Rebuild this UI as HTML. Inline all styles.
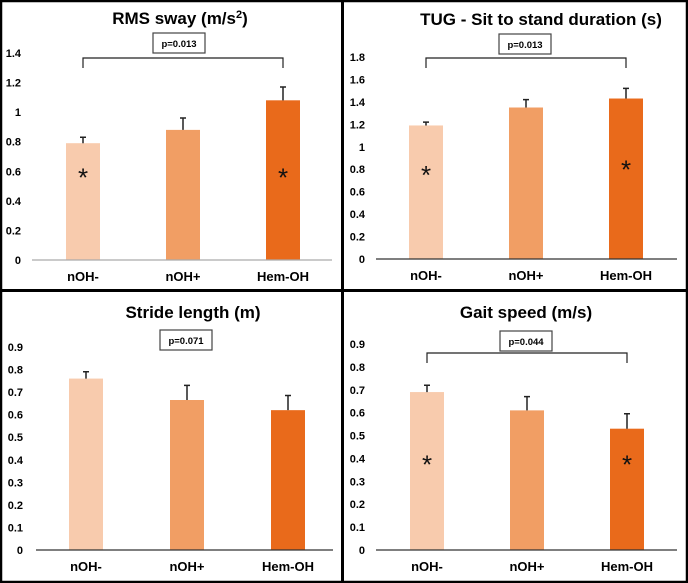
<!DOCTYPE html>
<html><head><meta charset="utf-8"><style>
html,body{margin:0;padding:0;background:#fff}
svg{display:block;font-family:"Liberation Sans",Arial,sans-serif}
</style></head><body>
<svg id="fig" width="688" height="583" viewBox="0 0 688 583" xmlns="http://www.w3.org/2000/svg">
<rect x="1" y="1" width="686" height="581" fill="#fff" stroke="#000" stroke-width="2.5"/>
<line x1="342.5" y1="0" x2="342.5" y2="583" stroke="#000" stroke-width="3"/>
<line x1="0" y1="290.5" x2="688" y2="290.5" stroke="#000" stroke-width="3"/>
</svg>
<script>
const categories = ["nOH-", "nOH+", "Hem-OH"];
const colors = ["#F8CBAD", "#F19E64", "#E96A1B"];
const rmsValues = [0.79, 0.88, 1.08];
const rmsErrors = [0.04, 0.08, 0.09];
const rmsTicks = ["0","0.2","0.4","0.6","0.8","1","1.2","1.4"];
const tugValues = [1.19, 1.35, 1.43];
const tugErrors = [0.03, 0.07, 0.09];
const tugTicks = ["0","0.2","0.4","0.6","0.8","1","1.2","1.4","1.6","1.8"];
const strideValues = [0.76, 0.665, 0.62];
const strideErrors = [0.03, 0.065, 0.065];
const strideTicks = ["0","0.1","0.2","0.3","0.4","0.5","0.6","0.7","0.8","0.9"];
const gaitValues = [0.69, 0.61, 0.53];
const gaitErrors = [0.03, 0.06, 0.065];
const gaitTicks = ["0","0.1","0.2","0.3","0.4","0.5","0.6","0.7","0.8","0.9"];
const rmsStars = [0.6, null, 0.6];
const tugStars = [0.8, null, 0.85];
const strideStars = [null, null, null];
const gaitStars = [0.4, null, 0.4];

const NS = "http://www.w3.org/2000/svg";
const svg = document.getElementById("fig");
function mk(tag, attrs, parent, text) {
  const e = document.createElementNS(NS, tag);
  for (const k in attrs) e.setAttribute(k, attrs[k]);
  if (text !== undefined) e.textContent = text;
  (parent || svg).appendChild(e);
  return e;
}

function panel(o) {
  const g = mk("g", {});
  
  
  const maxV = parseFloat(o.ticks[o.ticks.length - 1]);
  const y = v => o.y0 + (o.yTop - o.y0) * v / maxV;
  const x = i => o.cx0 + i * o.step;
  const t = mk("text", {x: o.tx, y: o.ty, "text-anchor": "middle", "font-size": 17, "font-weight": "bold", fill: "#000"}, g, o.title);
  if (o.sup) { mk("tspan", {"font-size": 11, dy: -6}, t, o.sup); mk("tspan", {dy: 6}, t, ")"); }
  
  
  o.ticks.forEach(tk => {
    const tl = mk("text", {x: o.lx, y: y(parseFloat(tk)) + 4, "text-anchor": "end", "font-size": 11, "font-weight": "bold", fill: "#000"}, g, tk);
    
    
  });
  o.values.forEach((v, i) => {
    const bw = 34;
    const r = mk("rect", {x: x(i) - bw / 2, y: y(v), width: bw, height: o.y0 - y(v), fill: colors[i]}, g);
    
    
    const top = y(v + o.errors[i]);
    const eb = mk("path", {d: `M${x(i)},${y(v)}V${top}M${x(i) - 3},${top}H${x(i) + 3}`, stroke: "#222", "stroke-width": 1.5, fill: "none"}, g);
    
    
    if (o.stars[i] !== null) {
      const st = mk("text", {x: x(i), y: y(o.stars[i]) + 15, "text-anchor": "middle", "font-size": 26, fill: "#111"}, g, "*");
      
      
    }
    const cl = mk("text", {x: x(i), y: o.y0 + 21, "text-anchor": "middle", "font-size": 13, "font-weight": "bold", fill: "#000"}, g, categories[i]);
    
    
  });
  const ax = mk("line", {x1: o.ax1, y1: o.y0, x2: o.ax2, y2: o.y0, stroke: o.axColor, "stroke-width": 1.2}, g);
  
  
  const pb = mk("rect", {x: o.px, y: o.py, width: 52, height: 20, fill: "#fff", stroke: "#444", "stroke-width": 1.2}, g);
  
  
  const pt = mk("text", {x: o.px + 26, y: o.py + 14, "text-anchor": "middle", "font-size": 9.5, "font-weight": "bold", fill: "#000"}, g, o.p);
  
  
  if (o.bracket) {
    const b = mk("path", {d: `M${x(0)},${o.by + 10}V${o.by}H${x(2)}V${o.by + 10}`, stroke: "#222", "stroke-width": 1.2, fill: "none"}, g);
    
    
  }
}

panel({name: "rms-sway-panel", title: "RMS sway (m/s", sup: "2", tx: 180, ty: 24, values: rmsValues, errors: rmsErrors, ticks: rmsTicks, stars: rmsStars,
  y0: 260, yTop: 53, cx0: 83, step: 100, lx: 21, ax1: 32, ax2: 332, axColor: "#aaa", px: 153, py: 33, p: "p=0.013", bracket: true, by: 58});
panel({name: "tug-panel", title: "TUG - Sit to stand duration (s)", tx: 541, ty: 25, values: tugValues, errors: tugErrors, ticks: tugTicks, stars: tugStars,
  y0: 259, yTop: 57, cx0: 426, step: 100, lx: 365, ax1: 376, ax2: 677, axColor: "#333", px: 499, py: 34, p: "p=0.013", bracket: true, by: 58});
panel({name: "stride-length-panel", title: "Stride length (m)", tx: 193, ty: 318, values: strideValues, errors: strideErrors, ticks: strideTicks, stars: strideStars,
  y0: 550, yTop: 347, cx0: 86, step: 101, lx: 23, ax1: 36, ax2: 333, axColor: "#333", px: 160, py: 330, p: "p=0.071", bracket: false});
panel({name: "gait-speed-panel", title: "Gait speed (m/s)", tx: 526, ty: 318, values: gaitValues, errors: gaitErrors, ticks: gaitTicks, stars: gaitStars,
  y0: 550, yTop: 344, cx0: 427, step: 100, lx: 365, ax1: 376, ax2: 677, axColor: "#333", px: 500, py: 331, p: "p=0.044", bracket: true, by: 353});
</script>
</body></html>
